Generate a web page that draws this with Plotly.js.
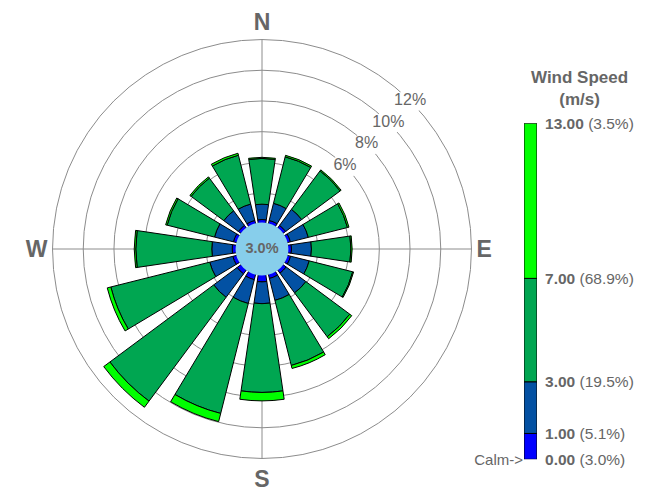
<!DOCTYPE html>
<html><head><meta charset="utf-8">
<script src="https://cdn.plot.ly/plotly-3.0.1.min.js"></script>
<style>html,body{margin:0;padding:0;background:#fff;}#chart{width:655px;height:495px;}</style>
</head><body><div id="chart"></div>
<script>
// ---- data ----
const directions = ['N','NNE','NE','ENE','E','ESE','SE','SSE','S','SSW','SW','WSW','W','WNW','NW','NNW'];
const speedEdges = [0, 1, 3, 7, 13];
const binPercent = [5.1, 19.5, 68.9, 3.5];
const calmPercent = 3.0;
const freq0to1  = [0.28,0.28,0.28,0.27,0.28,0.28,0.32,0.34,0.50,0.42,0.38,0.32,0.30,0.28,0.28,0.28];
const freq1to3  = [1.00,1.15,1.30,1.20,1.30,1.25,1.60,1.47,1.42,1.60,1.90,1.55,1.33,1.27,1.18,1.10];
const freq3to7  = [2.98,3.12,3.12,2.63,2.57,2.92,3.56,4.37,5.78,7.38,8.42,6.64,4.95,3.18,2.65,3.28];
const freq7to13 = [0.07,0.10,0.08,0.10,0.08,0.06,0.16,0.20,0.55,0.55,0.50,0.24,0.10,0.10,0.10,0.13];
const ringValues = [6, 8, 10, 12];
const ringLabels = ['6%', '8%', '10%', '12%'];
const compassLabels = ['N', 'E', 'S', 'W'];
const compassAngles = [0, 90, 180, 270];

// ---- style ----
const FONT = 'Liberation Sans, Arial, sans-serif';
const GRAY = '#666666';
const GRID = '#8c8c8c';
const binColors = ['#0000FF', '#0351A3', '#00A651', '#00FF00'];
const calmColor = '#87CEEB';
const calmOffset = 1.64;   // radial space reserved for the calm circle
const barWidth = 16.8;

const series = [freq0to1, freq1to3, freq3to7, freq7to13];
const theta = directions.map((d, i) => i * 360 / directions.length);

const traces = [];
let cum = directions.map(() => 0);
series.forEach((vals, b) => {
  traces.push({
    type: 'barpolar', r: vals, base: cum.slice(), theta: theta, width: barWidth,
    marker: {color: binColors[b], line: {color: '#000', width: 1}},
    hoverinfo: 'skip', showlegend: false
  });
  cum = cum.map((c, i) => c + vals[i]);
});
// calm circle
traces.push({
  type: 'barpolar', r: [calmOffset + 0.08], base: [-calmOffset], theta: [0], width: [360],
  marker: {color: calmColor, line: {color: calmColor, width: 0}},
  hoverinfo: 'skip', showlegend: false
});
// ring labels
traces.push({
  type: 'scatterpolar', mode: 'markers+text', r: ringValues, theta: ringValues.map(() => 45),
  text: ringLabels, textposition: 'middle center',
  marker: {size: 26, color: '#ffffff'},
  textfont: {family: FONT, size: 16, color: GRAY},
  hoverinfo: 'skip', showlegend: false, cliponaxis: false
});
// calm label
traces.push({
  type: 'scatterpolar', mode: 'text', r: [-calmOffset], theta: [0],
  text: ['<b>' + calmPercent.toFixed(1) + '%</b>'], textposition: 'middle center',
  textfont: {family: FONT, size: 14.5, color: GRAY},
  hoverinfo: 'skip', showlegend: false, cliponaxis: false
});
// legend colour bar
for (let b = 0; b < speedEdges.length - 1; b++) {
  traces.push({
    type: 'bar', x: [0], y: [speedEdges[b + 1] - speedEdges[b]], base: [speedEdges[b]], width: 1,
    marker: {color: binColors[b], line: {color: '#000', width: 1}},
    xaxis: 'x', yaxis: 'y', hoverinfo: 'skip', showlegend: false
  });
}
// invisible trace so the "Calm->" axis is drawn
traces.push({
  type: 'scatter', mode: 'markers', x: [0], y: [speedEdges[0]], marker: {opacity: 0, size: 1},
  xaxis: 'x', yaxis: 'y2', hoverinfo: 'skip', showlegend: false
});
const legendTickText = speedEdges.map((e, i) =>
  '<b>' + e.toFixed(2) + '</b> (' + (i === 0 ? calmPercent : binPercent[i - 1]).toFixed(1) + '%)');

const layout = {
  width: 655, height: 495,
  margin: {l: 0, r: 0, t: 0, b: 0},
  paper_bgcolor: '#fff', plot_bgcolor: 'rgba(0,0,0,0)',
  showlegend: false, hovermode: false, barmode: 'overlay',
  font: {family: FONT, color: GRAY},
  polar: {
    domain: {x: [0.0802, 0.7198], y: [0.0737, 0.9202]},
    bgcolor: 'rgba(0,0,0,0)',
    barmode: 'overlay',
    radialaxis: {
      range: [-calmOffset, 12], tickmode: 'array', tickvals: [0, 2, 4, 6, 8, 10, 12],
      showticklabels: false, ticks: '', showline: false,
      gridcolor: GRID, gridwidth: 1, layer: 'below traces'
    },
    angularaxis: {
      direction: 'clockwise', rotation: 90, tickmode: 'array',
      tickvals: compassAngles, ticktext: compassLabels.map(t => '<b>' + t + '</b>'),
      ticks: '', showline: true, linecolor: GRID, linewidth: 1,
      gridcolor: GRID, gridwidth: 1, layer: 'below traces',
      tickfont: {family: FONT, size: 23, color: GRAY}
    }
  },
  xaxis: {domain: [0.8, 0.8198], range: [-0.5, 0.5], visible: false, fixedrange: true},
  yaxis: {
    domain: [0.0721, 0.7509], range: [0, 13], anchor: 'x', side: 'right',
    tickmode: 'array', tickvals: speedEdges, ticktext: legendTickText,
    showgrid: false, zeroline: false, showline: false, ticks: 'outside', ticklen: 4,
    tickcolor: 'rgba(0,0,0,0)', tickfont: {family: FONT, size: 15.5, color: GRAY}, fixedrange: true
  },
  yaxis2: {
    domain: [0.0721, 0.7509], range: [0, 13], anchor: 'x', overlaying: 'y', side: 'left',
    tickmode: 'array', tickvals: [0], ticktext: ['Calm->'],
    showgrid: false, zeroline: false, showline: false, ticks: '',
    tickfont: {family: FONT, size: 15, color: GRAY}, fixedrange: true
  },
  annotations: [{
    xref: 'paper', yref: 'paper', x: 0.884, y: 0.822, xanchor: 'center', yanchor: 'middle',
    text: '<b>Wind Speed</b><br><b>(m/s)</b>', showarrow: false,
    font: {family: FONT, size: 17, color: GRAY}
  }]
};

Plotly.newPlot('chart', traces, layout, {displayModeBar: false, staticPlot: true});
</script>
</body></html>
